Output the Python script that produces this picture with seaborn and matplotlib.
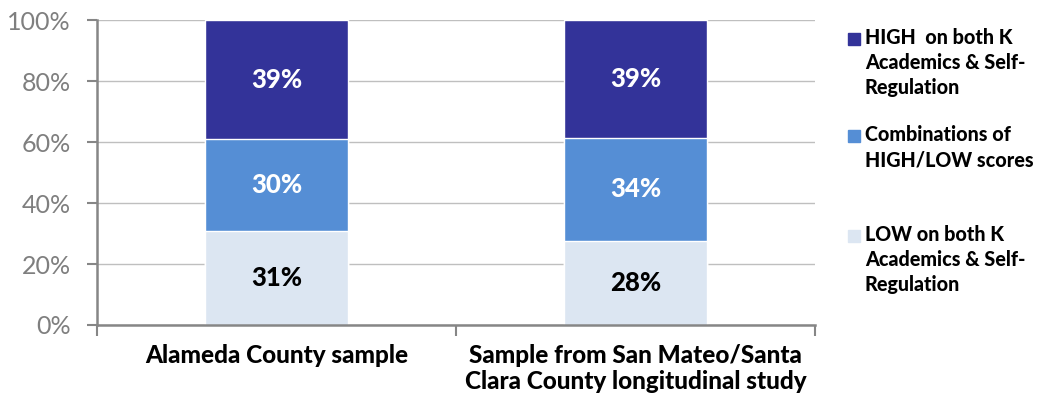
import pandas as pd
import matplotlib.pyplot as plt
import seaborn as sns
from matplotlib.patches import Rectangle

categories = ["Alameda County sample",
              "Sample from San Mateo/Santa\nClara County longitudinal study"]
low_both = [31, 28]
combos = [30, 34]
high_both = [39, 39]

series_names = ["LOW on both K\nAcademics & Self-\nRegulation",
                "Combinations of\nHIGH/LOW scores",
                "HIGH  on both K\nAcademics & Self-\nRegulation"]
colors = ["#DCE6F2", "#558ED5", "#333399"]
text_colors = ["black", "white", "white"]

sns.set_theme(style="white")
plt.rcParams['font.family'] = ['Lato', 'DejaVu Sans']

df = pd.DataFrame({"category": categories, "low": low_both,
                   "combo": combos, "high": high_both})
total = df[["low", "combo", "high"]].sum(axis=1)
# 100% stacked: normalise each bar to its own total
shares = df[["low", "combo", "high"]].div(total, axis=0) * 100
cum = shares.cumsum(axis=1)

fig = plt.figure(figsize=(10.41, 4), dpi=100)
ax = fig.add_axes([0.0932, 0.1875, 0.6897, 0.7615])

# draw tallest first so shorter stacks sit on top
for col, color in zip(["high", "combo", "low"], colors[::-1]):
    sns.barplot(x=df["category"], y=cum[col], color=color, width=0.4,
                saturation=1, ax=ax, zorder=2)

# segment labels
for i in range(len(df)):
    bottom = 0
    for j, col in enumerate(["low", "combo", "high"]):
        h = shares.loc[i, col]
        ax.text(i, bottom + h / 2, f"{df.loc[i, col]}%", ha="center", va="center",
                fontsize=18.5, fontweight="black", color=text_colors[j], zorder=3)
        bottom += h

ax.set_ylim(0, 100)
ax.set_xlim(-0.5, 1.5)
ax.set_yticks(range(0, 101, 20))
ax.set_yticklabels([f"{v}%" for v in range(0, 101, 20)])
ax.yaxis.grid(True, color="#BFBFBF", linewidth=1, zorder=0)
ax.set_axisbelow(True)
ax.set_xlabel("")
ax.set_ylabel("")

for s in ["top", "right"]:
    ax.spines[s].set_visible(False)
for s in ["left", "bottom"]:
    ax.spines[s].set_color("#868686")
    ax.spines[s].set_linewidth(1.8)

ax.tick_params(axis="y", left=True, length=7, width=1.5, color="#868686",
               labelsize=18, labelcolor="#7F7F7F", pad=12)
ax.tick_params(axis="x", which="major", length=0, pad=14)
ax.set_xticks([-0.5, 0.5, 1.5], minor=True)
ax.tick_params(axis="x", which="minor", bottom=True, length=8, width=1.5,
               color="#868686")
for lbl in ax.get_xticklabels():
    lbl.set_fontsize(17.5)
    lbl.set_fontweight("black")
    lbl.set_color("black")
    lbl.set_verticalalignment("top")
    lbl.set_linespacing(1.15)

# legend drawn by hand to keep the uneven spacing
legend_tops = [28, 125, 225]
for name, color, top in zip(series_names[::-1], colors[::-1], legend_tops):
    y = 1 - top / 400
    fig.add_artist(Rectangle((848 / 1041, y - 17 / 400), 12 / 1041, 12 / 400,
                             transform=fig.transFigure, color=color))
    fig.text(865 / 1041, y, name, ha="left", va="top", fontsize=14.2,
             fontweight="black", color="black", linespacing=1.38)

fig.savefig("out.png", dpi=100)
